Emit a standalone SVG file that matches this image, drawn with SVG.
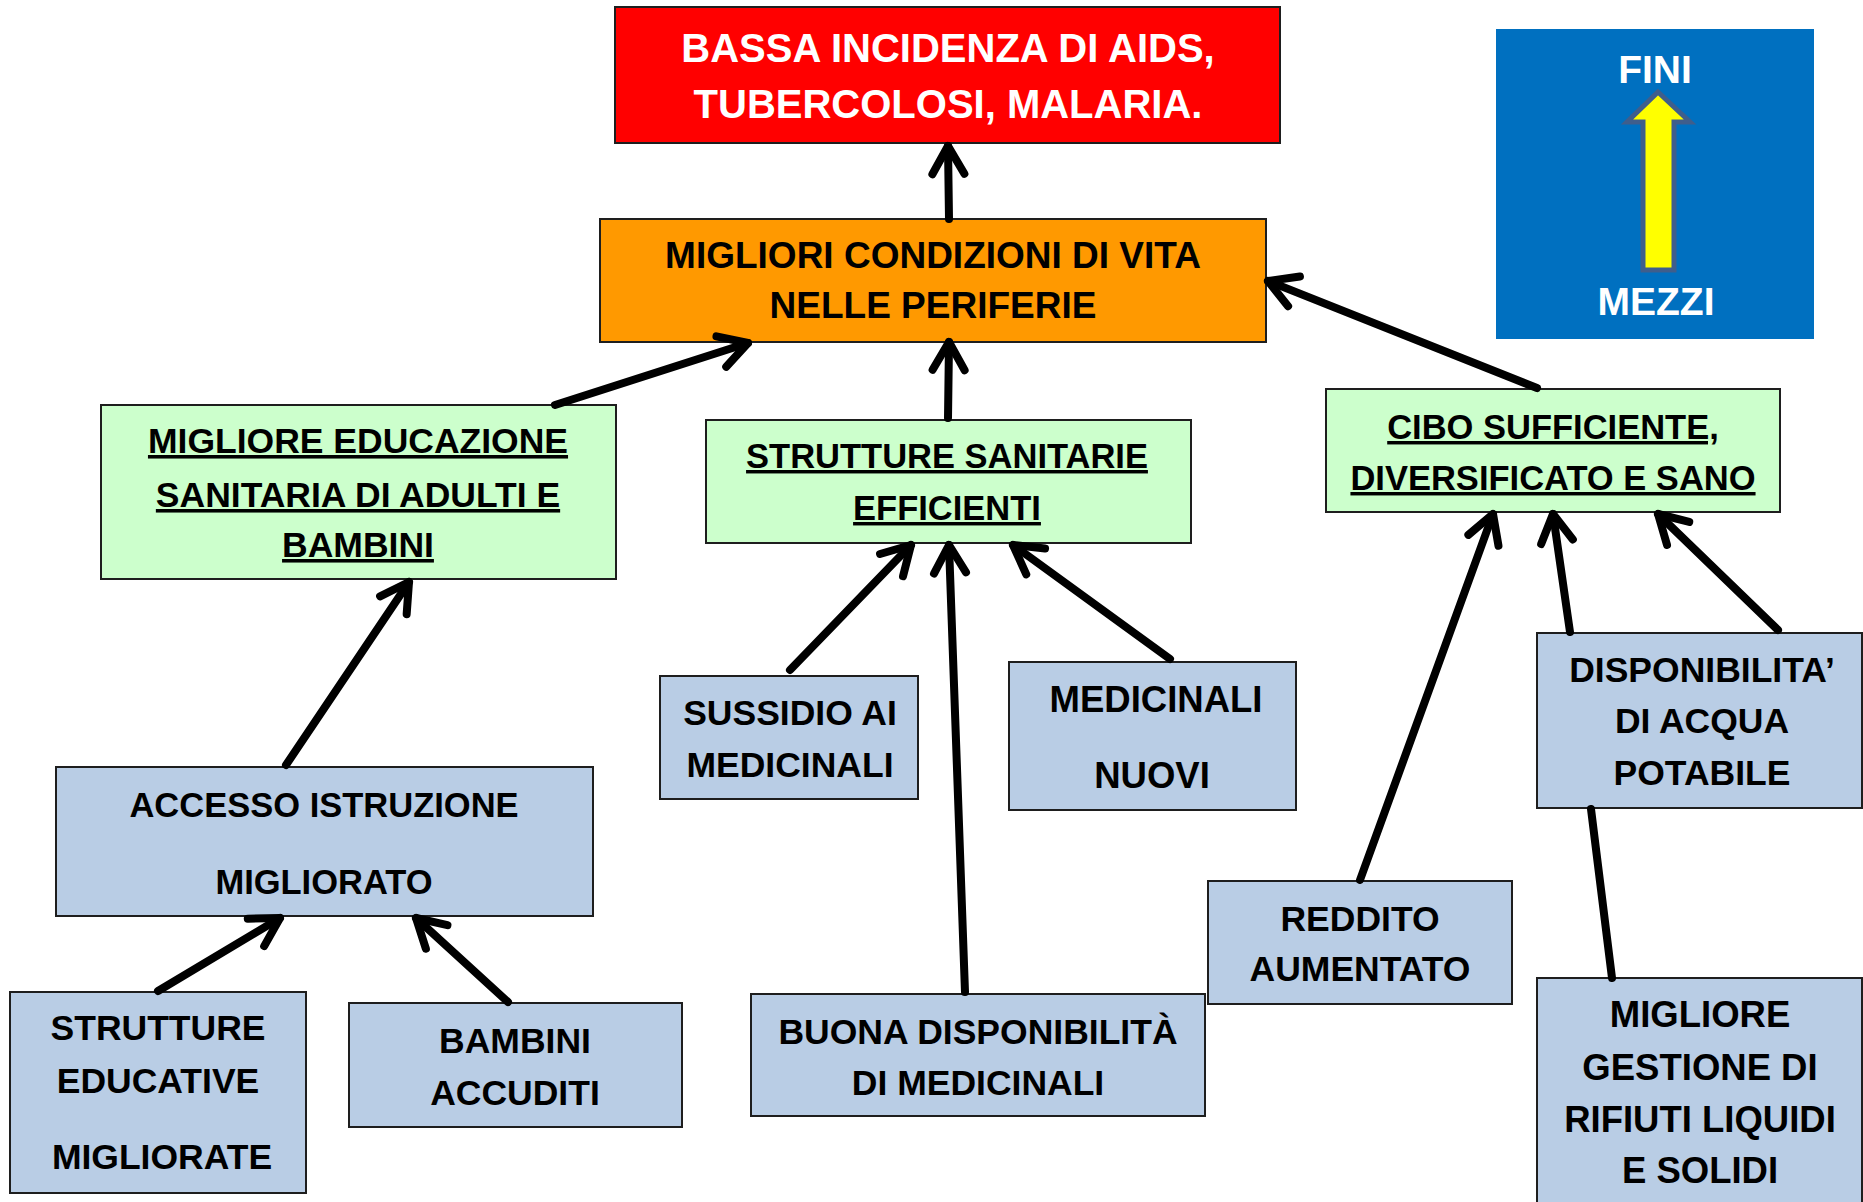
<svg xmlns="http://www.w3.org/2000/svg" width="1863" height="1202" viewBox="0 0 1863 1202">
<style>
  .box { stroke: #1e1e1e; stroke-width: 2; }
  .red { fill: #FF0000; }
  .orange { fill: #FF9900; }
  .green { fill: #CCFFCC; }
  .blue { fill: #B9CDE5; }
  text { font-family: "Liberation Sans", Arial, sans-serif; font-weight: bold; text-anchor: middle; fill: #000; }
  .t34 { font-size: 34.5px; }
  .t35 { font-size: 35.5px; }
  .t36 { font-size: 36.5px; }
  .t37 { font-size: 37px; }
  .t40 { font-size: 40px; fill: #fff; }
  .leg { font-size: 39px; fill: #fff; }
  .ul { text-decoration: underline; }
  .conn { stroke: #000; stroke-width: 8; fill: none; stroke-linecap: round; }
</style>
<defs>
  <marker id="arrow" markerUnits="userSpaceOnUse" markerWidth="44" markerHeight="44" viewBox="0 0 44 44" refX="36" refY="22" orient="auto" overflow="visible">
    <path d="M8,6 L36,22 L8,38" fill="none" stroke="#000" stroke-width="8" stroke-linecap="round" stroke-linejoin="round"/>
  </marker>
</defs>
<rect x="0" y="0" width="1863" height="1202" fill="#fff"/>

<g id="legend">
  <rect x="1496" y="29" width="318" height="310" fill="#0070C0"/>
  <polygon points="1658,92 1690,122 1674,122 1674,270 1643,270 1643,122 1627,122" fill="#FFFF00" stroke="#3F5E8C" stroke-width="5"/>
  <text class="leg" x="1655" y="83">FINI</text>
  <text class="leg" x="1656" y="315">MEZZI</text>
</g>

<g id="node-bassa-incidenza">
  <rect class="box red" x="615" y="7" width="665" height="136"/>
  <text class="t40" x="948" y="62">BASSA INCIDENZA DI AIDS,</text>
  <text class="t40" x="948" y="118">TUBERCOLOSI, MALARIA.</text>
</g>

<g id="node-migliori-condizioni">
  <rect class="box orange" x="600" y="219" width="666" height="123"/>
  <text class="t37" x="933" y="268">MIGLIORI CONDIZIONI DI VITA</text>
  <text class="t37" x="933" y="318">NELLE PERIFERIE</text>
</g>

<g id="node-educazione-sanitaria">
  <rect class="box green" x="101" y="405" width="515" height="174"/>
  <text class="t35 ul" x="358" y="453">MIGLIORE EDUCAZIONE</text>
  <text class="t35 ul" x="358" y="507">SANITARIA DI ADULTI E</text>
  <text class="t35 ul" x="358" y="557">BAMBINI</text>
</g>

<g id="node-strutture-sanitarie">
  <rect class="box green" x="706" y="420" width="485" height="123"/>
  <text class="t34 ul" x="947" y="468">STRUTTURE SANITARIE</text>
  <text class="t34 ul" x="947" y="520">EFFICIENTI</text>
</g>

<g id="node-cibo">
  <rect class="box green" x="1326" y="389" width="454" height="123"/>
  <text class="t34 ul" x="1553" y="439">CIBO SUFFICIENTE,</text>
  <text class="t34 ul" x="1553" y="490">DIVERSIFICATO E SANO</text>
</g>

<g id="node-accesso-istruzione">
  <rect class="box blue" x="56" y="767" width="537" height="149"/>
  <text class="t34" x="324" y="817">ACCESSO ISTRUZIONE</text>
  <text class="t34" x="324" y="894">MIGLIORATO</text>
</g>

<g id="node-strutture-educative">
  <rect class="box blue" x="10" y="992" width="296" height="201"/>
  <text class="t35" x="158" y="1040">STRUTTURE</text>
  <text class="t35" x="158" y="1093">EDUCATIVE</text>
  <text class="t35" x="162" y="1169">MIGLIORATE</text>
</g>

<g id="node-bambini-accuditi">
  <rect class="box blue" x="349" y="1003" width="333" height="124"/>
  <text class="t35" x="515" y="1053">BAMBINI</text>
  <text class="t35" x="515" y="1105">ACCUDITI</text>
</g>

<g id="node-sussidio">
  <rect class="box blue" x="660" y="676" width="258" height="123"/>
  <text class="t35" x="790" y="725">SUSSIDIO AI</text>
  <text class="t35" x="790" y="777">MEDICINALI</text>
</g>

<g id="node-medicinali-nuovi">
  <rect class="box blue" x="1009" y="662" width="287" height="148"/>
  <text class="t36" x="1156" y="712">MEDICINALI</text>
  <text class="t36" x="1152" y="788">NUOVI</text>
</g>

<g id="node-buona-disponibilita">
  <rect class="box blue" x="751" y="994" width="454" height="122"/>
  <text class="t35" x="978" y="1044">BUONA DISPONIBILITÀ</text>
  <text class="t35" x="978" y="1095">DI MEDICINALI</text>
</g>

<g id="node-reddito">
  <rect class="box blue" x="1208" y="881" width="304" height="123"/>
  <text class="t35" x="1360" y="931">REDDITO</text>
  <text class="t35" x="1360" y="981">AUMENTATO</text>
</g>

<g id="node-acqua">
  <rect class="box blue" x="1537" y="633" width="325" height="175"/>
  <text class="t35" x="1702" y="682">DISPONIBILITA’</text>
  <text class="t35" x="1702" y="733">DI ACQUA</text>
  <text class="t35" x="1702" y="785">POTABILE</text>
</g>

<g id="node-rifiuti">
  <rect class="box blue" x="1537" y="978" width="325" height="240"/>
  <text class="t36" x="1700" y="1027">MIGLIORE</text>
  <text class="t36" x="1700" y="1080">GESTIONE DI</text>
  <text class="t36" x="1700" y="1132">RIFIUTI LIQUIDI</text>
  <text class="t36" x="1700" y="1183">E SOLIDI</text>
</g>

<g id="connectors">
  <line class="conn" x1="949" y1="219" x2="948" y2="146" marker-end="url(#arrow)"/>
  <line class="conn" x1="555" y1="405" x2="748" y2="343" marker-end="url(#arrow)"/>
  <line class="conn" x1="948" y1="418" x2="949" y2="342" marker-end="url(#arrow)"/>
  <line class="conn" x1="1537" y1="388" x2="1268" y2="281" marker-end="url(#arrow)"/>
  <line class="conn" x1="286" y1="765" x2="409" y2="582" marker-end="url(#arrow)"/>
  <line class="conn" x1="158" y1="991" x2="280" y2="918" marker-end="url(#arrow)"/>
  <line class="conn" x1="508" y1="1002" x2="416" y2="918" marker-end="url(#arrow)"/>
  <line class="conn" x1="790" y1="670" x2="911" y2="545" marker-end="url(#arrow)"/>
  <line class="conn" x1="965" y1="992" x2="949" y2="545" marker-end="url(#arrow)"/>
  <line class="conn" x1="1170" y1="659" x2="1013" y2="545" marker-end="url(#arrow)"/>
  <line class="conn" x1="1360" y1="880" x2="1493" y2="514" marker-end="url(#arrow)"/>
  <line class="conn" x1="1570" y1="632" x2="1553" y2="514" marker-end="url(#arrow)"/>
  <line class="conn" x1="1778" y1="630" x2="1658" y2="514" marker-end="url(#arrow)"/>
  <line class="conn" x1="1591" y1="809" x2="1612" y2="978"/>
</g>
</svg>
